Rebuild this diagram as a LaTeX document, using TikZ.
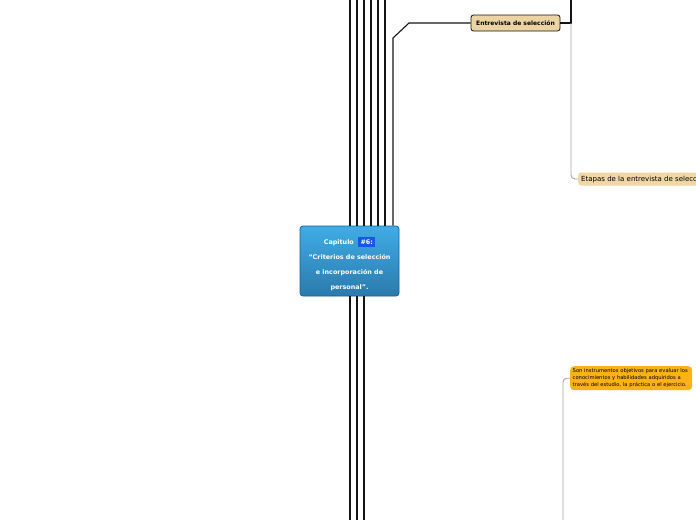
\documentclass[tikz,border=0pt]{standalone}
\usepackage{fontspec}
\setmainfont{DejaVu Sans}
\usetikzlibrary{positioning, calc}
\definecolor{MapBlueTop}{RGB}{64,172,230}
\definecolor{MapBlueBot}{RGB}{42,122,172}
\definecolor{MapBlueEdge}{RGB}{22,98,160}
\definecolor{MapBadge}{RGB}{24,88,224}
\definecolor{MapTan}{RGB}{236,211,163}
\definecolor{MapTanLight}{RGB}{240,215,165}
\definecolor{MapOrange}{RGB}{250,178,22}
\definecolor{MapGrey}{RGB}{165,165,165}
\definecolor{MapLine}{RGB}{20,20,20}

\tikzset{
  branch/.style={MapLine, line width=1.1pt},
  twig/.style={MapGrey, line width=0.9pt, rounded corners=4pt},
  central/.style={rectangle, rounded corners=3pt, draw=MapBlueEdge, line width=0.8pt,
    top color=MapBlueTop, bottom color=MapBlueBot, text=white,
    minimum width=99pt, minimum height=70pt, align=center,
    font=\fontsize{6.4}{15}\selectfont\bfseries},
  topic/.style={rectangle, rounded corners=2.5pt, draw=MapLine, line width=0.8pt,
    fill=MapTan, minimum width=89pt, minimum height=16pt, inner sep=1pt,
    font=\fontsize{6}{7}\selectfont\bfseries},
  subtopic/.style={rectangle, rounded corners=3pt, fill=MapTanLight,
    minimum height=13pt, inner xsep=3pt, inner ysep=1pt,
    font=\fontsize{7}{8}\selectfont},
  note/.style={rectangle, rounded corners=4pt, fill=MapOrange,
    text width=117pt, minimum height=24pt, inner xsep=2.5pt, inner ysep=2pt, align=left,
    font=\fontsize{5.2}{7.2}\selectfont}
}
\newcommand{\chapbadge}[1]{{\setlength{\fboxsep}{2.2pt}\colorbox{MapBadge}{#1}}}

\begin{document}
\begin{tikzpicture}[x=1pt, y=-1pt]
  \useasboundingbox[fill=white] (0,0) rectangle (696,520);

  % central topic
  \node[central] (cap) at (349.5,261) {\rule{0pt}{13pt}Capitulo \ \chapbadge{\#6:}\\
    “Criterios de selección\\
    e incorporación de\\
    personal”.};

  % branches leaving the page
  \foreach \x [count=\i] in {350,357,364,371,378,385} {
    \coordinate (up\i) at (\x,0);
    \draw[branch] (cap.north -| up\i) -- (up\i);
  }
  \foreach \x [count=\i] in {350,357,364} {
    \coordinate (down\i) at (\x,520);
    \draw[branch] (cap.south -| down\i) -- (down\i);
  }

  % entrevista
  \node[topic] (entr) at (515.5,23) {Entrevista de selección};
  \coordinate (bend) at (393,38);
  \draw[branch] (cap.north -| bend) -- (bend) -- (409,23) -- (entr.west);

  \coordinate (hub) at (571,23);
  \coordinate (hubtop) at (571,0);
  \draw[branch] (entr.east) -- (hub) -- (hubtop);

  \node[subtopic, anchor=west] (etapas) at (578,179) {Etapas de la entrevista de selección};
  \draw[twig] (hub) |- (etapas.west);

  % instrumentos
  \node[note, anchor=north west] (instr) at (570,366) {Son instrumentos objetivos para evaluar los\\
    conocimientos y habilidades adquiridos a\\
    través del estudio, la práctica o el ejercicio.};
  \coordinate (instrbot) at (563,520);
  \draw[twig] (instrbot) |- (instr.west);
\end{tikzpicture}
\end{document}
